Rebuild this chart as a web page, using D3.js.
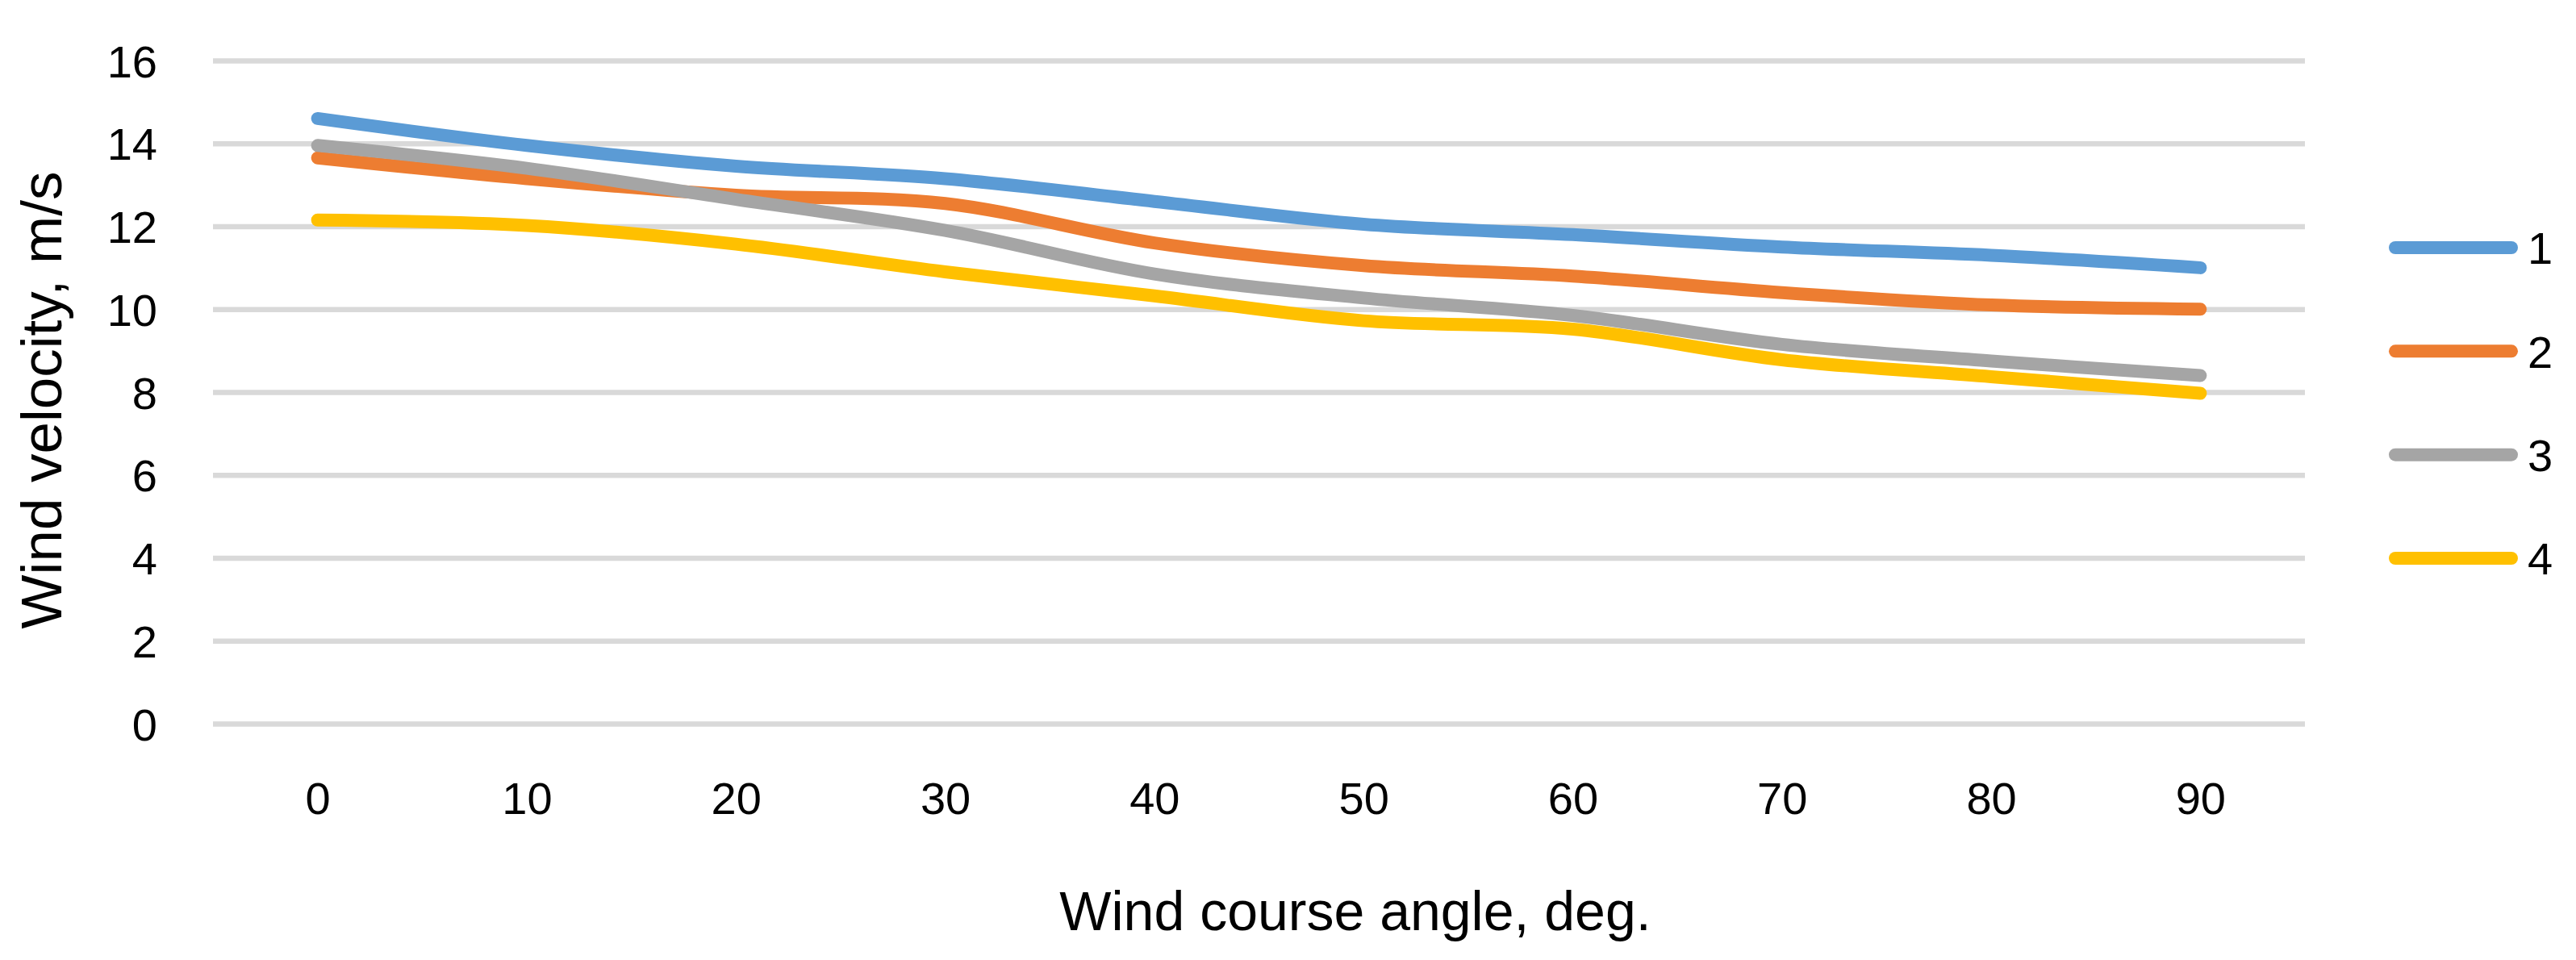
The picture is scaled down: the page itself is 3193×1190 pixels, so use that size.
<!DOCTYPE html>
<html>
<head>
<meta charset="utf-8">
<script src="https://cdn.jsdelivr.net/npm/d3@7/dist/d3.min.js"></script>
<style>
  html, body { margin: 0; padding: 0; background: #fff; }
  svg text { font-family: "Liberation Sans", Arial, sans-serif; fill: #000; }
</style>
</head>
<body>
<div id="chart"></div>
<script>
'use strict';

/* ── Data ── */
const angles = [0, 10, 20, 30, 40, 50, 60, 70, 80, 90];
const series1 = [14.6, 13.95, 13.45, 13.15, 12.6, 12.05, 11.8, 11.5, 11.3, 11.0];
const series2 = [13.65, 13.15, 12.75, 12.55, 11.6, 11.05, 10.8, 10.4, 10.1, 10.0];
const series3 = [13.95, 13.4, 12.65, 11.9, 10.85, 10.27, 9.85, 9.15, 8.75, 8.4];
const series4 = [12.15, 12.02, 11.57, 10.9, 10.32, 9.72, 9.52, 8.78, 8.37, 7.97];
const seriesNames = ['1', '2', '3', '4'];
const seriesColors = ['#5B9BD5', '#ED7D31', '#A5A5A5', '#FFC000'];
const yTicks = [0, 2, 4, 6, 8, 10, 12, 14, 16];

/* ── Layout ── */
const W = 3193, H = 1190;
const plot = { left: 264, right: 2857, top: 75, bottom: 897 };

const svg = d3.select('#chart').append('svg')
  .attr('width', W).attr('height', H)
  .style('background', '#fff');

const x = d3.scalePoint().domain(angles).range([plot.left, plot.right]).padding(0.5);
const y = d3.scaleLinear().domain([0, 16]).range([plot.bottom, plot.top]);

/* ── Gridlines + y labels ── */
const yAxis = svg.append('g')
  .attr('transform', `translate(${plot.left},0)`)
  .call(d3.axisLeft(y).tickValues(yTicks)
    .tickSize(-(plot.right - plot.left)).tickPadding(69));
yAxis.select('.domain').remove();
yAxis.selectAll('.tick line').attr('stroke', '#D9D9D9').attr('stroke-width', 6.5);
yAxis.selectAll('.tick text').style('font-size', '56px').attr('dy', '0.36em');

/* ── x labels ── */
const xAxis = svg.append('g')
  .attr('transform', `translate(0,${plot.bottom})`)
  .call(d3.axisBottom(x).tickSize(0).tickPadding(72));
xAxis.select('.domain').remove();
xAxis.selectAll('.tick text').style('font-size', '56px');

/* ── Lines ── */
const allSeries = [series1, series2, series3, series4];
const line = d3.line()
  .x((d, i) => x(angles[i]))
  .y(d => y(d))
  .curve(d3.curveCatmullRom.alpha(0.5));

svg.append('g').selectAll('path')
  .data(allSeries)
  .join('path')
  .attr('d', d => line(d))
  .attr('fill', 'none')
  .attr('stroke', (d, i) => seriesColors[i])
  .attr('stroke-width', 16)
  .attr('stroke-linecap', 'round')
  .attr('stroke-linejoin', 'round');

/* ── Legend ── */
const legY = d3.scalePoint().domain(seriesNames).range([307, 692]);
const legend = svg.append('g').selectAll('g')
  .data(seriesNames)
  .join('g')
  .attr('transform', d => `translate(2969,${legY(d)})`);
legend.append('line')
  .attr('x1', 0).attr('x2', 144)
  .attr('stroke', (d, i) => seriesColors[i])
  .attr('stroke-width', 16)
  .attr('stroke-linecap', 'round');
legend.append('text')
  .attr('x', 164).attr('dy', '0.36em')
  .style('font-size', '56px')
  .text(d => d);

/* ── Axis titles ── */
svg.append('text')
  .attr('x', 1680).attr('y', 1153)
  .attr('text-anchor', 'middle')
  .style('font-size', '68px')
  .text('Wind course angle, deg.');

svg.append('text')
  .attr('transform', 'translate(76,496) rotate(-90)')
  .attr('text-anchor', 'middle')
  .style('font-size', '71px')
  .text('Wind velocity, m/s');
</script>
</body>
</html>
